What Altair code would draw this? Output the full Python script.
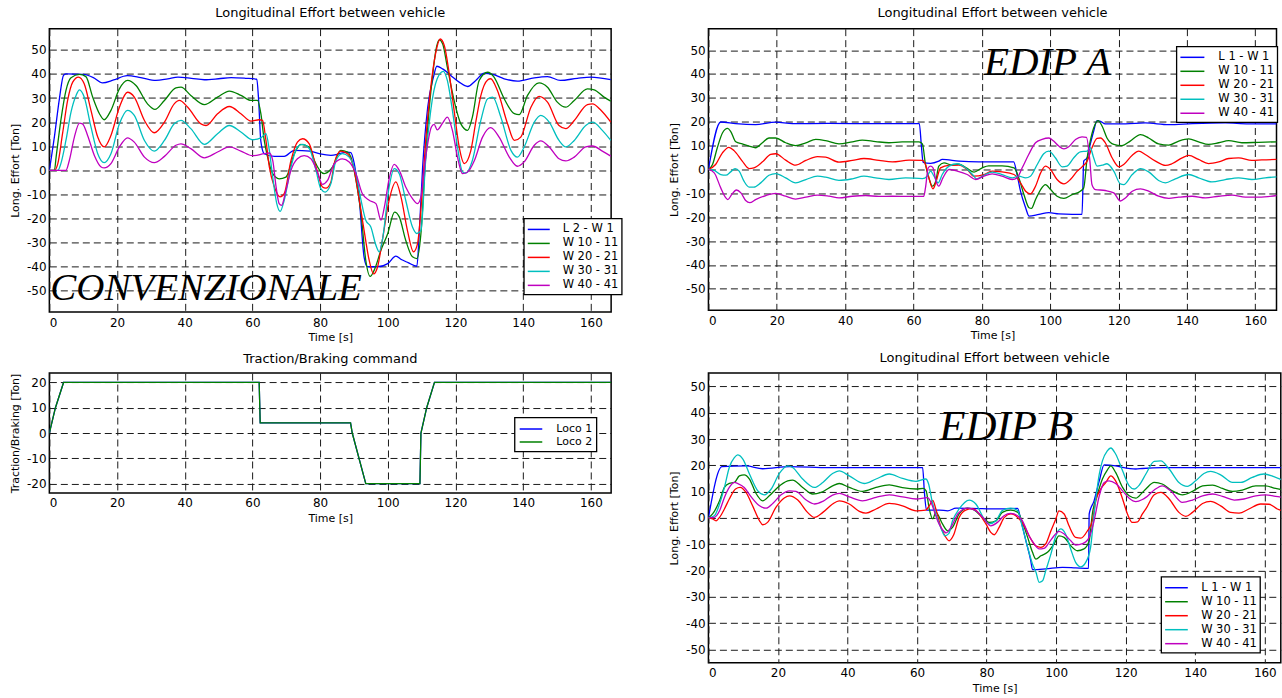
import altair as alt
import pandas as pd

# ---------------- axis ticks / names / colours ----------------
TIME_TICKS = [0, 20, 40, 60, 80, 100, 120, 140, 160]
EFFORT_TICKS = [-50, -40, -30, -20, -10, 0, 10, 20, 30, 40, 50]
CMD_TICKS = [-20, -10, 0, 10, 20]

COLORS5 = ["#0000ff", "#008000", "#ff0000", "#00bfbf", "#bf00bf"]
COLORS2 = ["#0000ff", "#008000"]
CONV_NAMES = ["L 2 - W 1", "W 10 - 11", "W 20 - 21", "W 30 - 31", "W 40 - 41"]
EDIP_NAMES = ["L 1 - W 1", "W 10 - 11", "W 20 - 21", "W 30 - 31", "W 40 - 41"]
CMD_NAMES = ["Loco 1", "Loco 2"]

# ---------------- CONVENZIONALE (top left) : (time, effort) ----------------
CONV_L2W1 = [(0, 0), (1.5, 14), (3, 30), (4.2, 39.5), (5, 40), (10, 39.8), (13, 38.5), (15.7, 36.3), (19, 37.5),
             (23, 39.3), (27, 38.5), (31.5, 37.3), (35, 38), (38, 38.7), (42, 38.2), (45.8, 37.6), (50, 38),
             (53.7, 38.5), (58, 38.2), (61.3, 37.8), (61.8, 30), (62.5, 12), (63.5, 6.9), (66.5, 5.8), (69.4, 5.8),
             (72.4, 8.3), (77, 8), (80, 6.8), (83.2, 6.2), (86, 7), (88.1, 7.6), (89.1, 7.4), (90.1, 2.8),
             (91.6, -12.4), (93, -36), (94, -40), (97, -40), (100, -38.7), (102.4, -35.6), (104, -37), (106, -38.3),
             (108.6, -39.8), (109.3, -26), (110.3, 1.4), (111.8, 26.2), (113.5, 38.7), (114.5, 43.2), (116.2, 42.1),
             (118.6, 39.4), (121.1, 36.6), (123.6, 34.8), (126, 37.3), (128.5, 40.3), (131, 39.8), (134.4, 38),
             (138.3, 37), (143.3, 38.4), (147.2, 38.9), (151, 37.3), (156, 38.2), (160, 38.7), (165.9, 37.6)]
CONV_W10 = [(0, 0), (1.5, 0), (2, 5.5), (3.4, 20.7), (4.9, 33.1), (6.4, 38.4), (8.9, 39.8), (10.8, 38.9),
            (12.8, 30.4), (14.8, 23.5), (16.2, 21), (18.2, 24.9), (20.7, 33.8), (23.1, 37.3), (25.6, 35.2),
            (29, 27.6), (31.2, 25.3), (34, 29), (37.4, 34.2), (38.9, 34.5), (41.8, 31.1), (45.8, 27.3), (49.7, 30.4),
            (53.2, 32.9), (56.6, 31.1), (59.6, 29), (61.5, 29), (62.5, 23.5), (63.5, 12.4), (64.5, 5.5), (66, -1.4),
            (67.9, -3.5), (69.9, -2.8), (72.4, 6.9), (74.3, 10.8), (76.8, 9.7), (78.3, 4.1), (81.2, -1.4),
            (83.7, 1.4), (86.1, 8.3), (88.1, 7.6), (89.1, 5.5), (90.6, -4.1), (92.1, -18), (93.5, -37.3),
            (94.8, -44), (96, -41.4), (98, -33.1), (100, -26.2), (102, -17.3), (103.4, -19.3), (105.3, -29),
            (107.3, -35.9), (108.6, -36.6), (109.8, -26.2), (111, 1.4), (112.2, 24.9), (113.2, 38.7), (114.2, 49.7),
            (115.2, 54.1), (116.2, 52.5), (117.6, 42.8), (119.6, 29), (121.6, 19.3), (123.6, 16.6), (125, 22.1),
            (127, 37.3), (129.5, 40.7), (131.4, 38.7), (134.4, 29.7), (137.4, 23.5), (138.8, 23.1), (141.3, 31.1),
            (144.7, 36.3), (147.2, 34.5), (150.1, 28.3), (152.6, 26.2), (155.1, 29), (159, 33.8), (161, 33.4),
            (163.9, 30.4), (165.9, 28.7)]
CONV_W20 = [(0, 0), (1.5, 0), (2.5, 2.8), (3.9, 15.2), (5.4, 29), (6.9, 36.6), (8.6, 38.7), (10.3, 35.9),
            (12.3, 24.9), (14.3, 13.8), (16.2, 9.7), (18.2, 14.5), (20.7, 26.2), (23.1, 32.4), (25.1, 30.4),
            (28.1, 20.7), (31, 15.6), (34, 20), (36.9, 27.6), (38.4, 29), (40.9, 26.2), (44.8, 19.3), (46.3, 18.6),
            (49.7, 23.5), (53.2, 26.5), (56.6, 23.5), (59.6, 20.4), (62, 21), (63, 20.7), (64, 12.4), (65, 1.4),
            (66.5, -6.9), (68.2, -11), (69.4, -9.7), (71.4, 4.1), (73.3, 11.7), (74.8, 13.1), (76.8, 11),
            (78.8, 1.4), (80.7, -6.9), (81.7, -7.4), (83.2, -4.8), (84.2, 3), (86.1, 8), (88.1, 6.9), (90.1, 0),
            (91.6, -12.4), (93, -24.9), (94.5, -37.3), (95.8, -43), (97, -40), (98.4, -29), (100.4, -12.4),
            (102.4, -4.8), (103.9, -11), (105.8, -24.9), (107.6, -33.8), (108.8, -30.4), (110, -12.4),
            (111.2, 12.4), (112.7, 34.5), (114.2, 49), (115.5, 54.5), (116.7, 51.8), (118.1, 40.7), (119.6, 24.9),
            (121.1, 9.7), (122.6, 2.8), (124.5, 8), (126, 20), (127.5, 31), (129.5, 37.5), (130.4, 38),
            (132.4, 33.1), (135.4, 19.3), (137.4, 12.4), (139.3, 13.8), (142.3, 26.2), (144.7, 30.7), (147.2, 28.3),
            (150.6, 18.6), (152.6, 17.3), (155.1, 20.7), (159, 27.3), (160.5, 27.6), (163, 24.9), (165.9, 20)]
CONV_W30 = [(0, 0), (2.5, 0), (3.4, 2.8), (4.9, 12.4), (6.4, 24.2), (7.9, 31.1), (8.9, 33.4), (10.3, 30.4),
            (12.3, 18), (14.3, 6.9), (16.2, 3.2), (18.2, 6.9), (20.7, 19.3), (23.1, 24.9), (25.1, 22.8),
            (28.1, 12.4), (31, 8), (34, 12.4), (36.9, 19.3), (38.9, 20.7), (41.8, 17.3), (45.8, 10.8), (49.7, 15.2),
            (53.2, 18.6), (56.6, 15.9), (60, 12.7), (62.5, 13.5), (64, 15.2), (65, 8.3), (66, -2.8), (67.2, -13.8),
            (68.2, -17), (69.4, -12.4), (71.4, 1.4), (73.3, 9.7), (74.8, 10.8), (76.8, 9), (78.8, 0), (80.2, -7.6),
            (81.5, -9), (83.2, -5.5), (84.7, 4.1), (86.6, 6.9), (88.6, 5.5), (90.6, -1.4), (92.1, -12.4),
            (93.5, -20.7), (95, -23.5), (96.5, -31.1), (97.5, -33.8), (98.4, -29), (100.4, -6.9), (101.9, 0.7),
            (103.4, -1.4), (105.3, -12.4), (107.3, -23.5), (108.6, -26.2), (109.8, -24.9), (111.2, 4.1),
            (112.7, 24.9), (114.6, 38), (116.4, 41.1), (117.6, 37.3), (119.1, 24.9), (120.6, 9.7), (122.1, -0.7),
            (123.1, -1.1), (125, 4.1), (127.5, 20.7), (129.5, 29.7), (131, 30.4), (133.4, 22.1), (136.4, 8.3),
            (138.3, 5.5), (140.3, 9.7), (143.3, 20), (145.2, 22.8), (147.7, 20), (150.6, 12.4), (152.6, 9.7),
            (155.1, 12.4), (158.5, 18.6), (160.5, 20), (163.4, 16.6), (165.9, 12.4)]
CONV_W40 = [(0, 0), (4.9, 0), (5.9, 4.1), (7.4, 13.8), (8.9, 19.6), (9.8, 19.3), (11.3, 14.5), (13.3, 6.2),
            (15.3, 1.4), (16.2, 1), (18.2, 2.8), (20.7, 9.7), (23.1, 13.5), (25.1, 11.7), (28.1, 5.5), (31, 3.2),
            (34, 5.8), (37.4, 10.4), (38.9, 11), (41.8, 9), (45.8, 5.2), (49.7, 7.6), (53.2, 9.7), (56.6, 8),
            (60, 6.1), (63.5, 6.9), (65, 7.2), (66, 4.1), (67, -6.9), (67.9, -13.8), (68.6, -14.5), (69.9, -8.3),
            (71.4, 0), (73.3, 4.8), (75.3, 6.1), (77.3, 4.8), (79.3, -1), (80.7, -5.8), (82.2, -4.2), (84.2, 2.8),
            (86.6, 4.8), (88.6, 3.5), (90.6, -1.4), (92.5, -9.7), (94.5, -12.4), (96.5, -13.8), (98, -20.7),
            (99, -15.2), (100.4, -3.5), (101.9, 2.5), (103.4, 0), (105.3, -6.9), (107.3, -11.7), (108.8, -13.8),
            (109.8, -11), (111.2, 5.5), (112.9, 18), (113.7, 19.1), (114.6, 16.8), (116.2, 19.6), (117.6, 22.1),
            (119.1, 16.6), (120.6, 5.5), (122.1, -1.4), (123.6, -0.7), (125.6, 4.1), (128, 13.8), (130.4, 17.7),
            (132.9, 13.8), (135.9, 5.5), (138.3, 1.7), (140.3, 3.5), (143.3, 10.4), (145.2, 12.2), (147.7, 9.7),
            (150.6, 4.8), (152.6, 3.9), (155.1, 5.5), (158.5, 9.7), (160.5, 10.1), (163.4, 8), (165.9, 5.9)]

# ---------------- Traction / braking command (bottom left) ----------------
CMD_LOCO1 = [(0, 0), (1.8, 10), (4.2, 20), (62, 20), (62.3, 4), (89, 4), (89.5, 0), (93.5, -20), (109.5, -20),
             (109.8, 0), (111.5, 10), (113.8, 20), (166, 20)]
CMD_LOCO2 = [(0, 0), (1.8, 10), (4.2, 20), (62, 20), (62.3, 4), (89, 4), (89.5, 0), (93.5, -20), (109.5, -20),
             (109.8, 0), (111.5, 10), (113.8, 20), (166, 20)]

# ---------------- EDIP A (top right) ----------------
EDA_L1W1 = [(0, 0), (3.6, 19.9), (8, 19.2), (13.8, 18.8), (19.7, 19.8), (24.6, 19.2), (35, 19.3), (50, 19.2),
            (61.7, 19.2), (62.3, 10), (62.8, 3), (65, 2.6), (67.4, 3.5), (68.4, 4.2), (73.3, 3.5), (79.1, 3.2),
            (89.3, 3.2), (90.3, -2.1), (91.3, -9.1), (92.8, -16), (93.8, -19.5), (96.7, -18.8), (99.6, -18.1),
            (102.5, -18.6), (106.4, -18.8), (109.3, -18.8), (109.8, 3.5), (110.8, 4.9), (111.7, 10.5), (112.7, 16),
            (113.7, 20.5), (114.7, 20.2), (116.1, 19.1), (122, 19.1), (127.8, 19.5), (134.7, 18.8), (141.5, 19.2),
            (151.2, 19.5), (158, 19.1), (166.3, 19.1)]
EDA_W10 = [(0, 0), (1.2, 2.1), (2.6, 9.1), (4.1, 15.3), (5.6, 17.2), (6.5, 16), (8, 11.6), (9.9, 10.7),
           (11.9, 9.8), (13.8, 9.1), (15.8, 11.2), (17.7, 13.2), (19.7, 13.2), (22.6, 11.2), (25.5, 10),
           (28.5, 11.2), (31.4, 12.6), (34.3, 12.1), (38.2, 10.7), (42.1, 11.6), (45, 12.3), (48.9, 11.7),
           (52.8, 11.2), (56.7, 11.6), (61.6, 11.6), (62.6, 10.7), (63.5, 2.1), (64.5, -3.5), (65.5, -7),
           (66.5, -4.9), (67.4, 1.4), (68.9, 2.8), (71.3, 1.8), (73.3, 2.2), (75.7, 0.5), (77.7, -1.1), (80.1, 0.7),
           (82, 1.5), (85.9, 1.5), (89.4, 0.7), (90.8, -3.5), (92.3, -10.5), (93.8, -16), (94.5, -16.3),
           (95.7, -12.6), (97.2, -8.4), (98.6, -6.3), (100.1, -8.4), (102, -11.2), (104, -12.1), (106.4, -10.5),
           (108.8, -9.1), (109.8, -7.7), (110.8, 4.9), (111.7, 11.9), (112.7, 17.4), (114, 20.5), (115.2, 18.1),
           (116.6, 13.2), (118.6, 10.5), (121, 10), (123.4, 11.9), (126.4, 14.6), (128.8, 13.2), (131.7, 10.7),
           (134.7, 10.2), (137.6, 11.9), (140.5, 12.8), (143.4, 11.6), (146.3, 10.5), (149.3, 11.2), (152.2, 12.1),
           (156.1, 11.2), (161, 11.4), (166.3, 11.6)]
EDA_W20 = [(0, 0), (2.1, 2.1), (4.1, 7), (6, 9.3), (7.5, 7.9), (9.9, 3.5), (11.9, 0.4), (13.3, 0.7), (15.8, 3.2),
           (18.2, 6.3), (19.7, 6.6), (22.6, 3.9), (25.5, 1.8), (28.5, 3.8), (31.9, 5.4), (34.3, 5.2), (38.2, 3.1),
           (42.1, 3.8), (45.5, 4.6), (49.9, 3.8), (53.8, 3.2), (58.7, 3.9), (62.6, 3.8), (63.5, 2.1), (64.5, -3.5),
           (65.7, -8.1), (66.5, -5.6), (67.9, 0.7), (70.4, 1.7), (73.3, 1.8), (75.7, 0), (77.7, -2.8), (80.6, -2.1),
           (83, -0.7), (85.9, -1), (89.4, -2.1), (91.3, -5.6), (92.8, -9.1), (94.2, -10.2), (95.7, -7),
           (97.2, -1.4), (98.6, 1.4), (100.1, 0), (102, -4.2), (104, -6), (105.9, -4.2), (107.9, -0.7),
           (109.3, 1.1), (110.8, 3.5), (112.2, 9.1), (113.7, 13), (114.7, 13.2), (116.1, 11.2), (118.1, 4.9),
           (120.1, 1.1), (121.5, 2.1), (124, 6), (125.9, 7.7), (127.8, 6.3), (130.8, 3.5), (133.7, 1.7),
           (135.6, 2.4), (138.6, 4.9), (140.5, 5.9), (143.4, 4.2), (146.3, 2.5), (149.3, 3.2), (152.2, 4.6),
           (155.1, 4.9), (159, 3.8), (161.9, 4), (166.3, 4.2)]
EDA_W30 = [(0, 0), (1.7, -0.4), (3.6, -2.1), (5.1, -2.4), (6.5, -1), (7.8, 0.4), (9, -0.7), (10.4, -4.9),
           (11.9, -7.4), (13.3, -7.4), (15.3, -5.6), (17.7, -2.4), (19.7, -1.7), (22.6, -3.5), (25.5, -5.6),
           (28.5, -4.2), (31.9, -2.8), (34.3, -3.2), (38.2, -4.6), (42.1, -3.9), (45.5, -2.8), (48.9, -3.5),
           (52.8, -4.2), (57.7, -3.5), (62.6, -3.8), (64, -2.8), (65, -0.7), (66, -2.8), (67.2, -5.6), (68.4, -2.1),
           (70.4, 1.4), (72.8, 2.4), (75.2, 0.7), (77.7, -2.8), (78.4, -3.9), (80.6, -2.4), (83, -1.1),
           (85.9, -2.1), (88.9, -3.5), (90.8, -2.8), (92.8, -3.5), (94.2, -2.8), (96.2, 2.1), (98.1, 6.6),
           (99.6, 7.7), (101.5, 4.9), (103.5, 1.1), (104.9, 1.4), (106.9, 4.9), (108.8, 7.4), (110.8, 7.7),
           (111.7, 9.1), (112.7, 4.9), (113.7, 1.4), (115.2, 1.8), (116.6, 2.4), (118.6, -0.7), (120.5, -6),
           (121.5, -6.3), (124, -2.1), (126.4, 0.4), (128.8, -1), (131.7, -4.6), (133.7, -5.6), (136.6, -3.9),
           (140.5, -2.1), (143.4, -3.5), (147.3, -5.2), (151.2, -4.2), (155.1, -3.5), (159, -4.2), (162.9, -3.5),
           (166.3, -3.1)]
EDA_W40 = [(0, 0), (1.7, -1.4), (3.6, -7.7), (5.1, -11.9), (5.7, -12.6), (6.8, -10.5), (8.2, -8.6), (9.5, -9.8),
           (10.9, -13), (12.1, -13.9), (13.8, -12.6), (16.8, -10.9), (19.7, -10), (22.6, -11.2), (25.5, -12.4),
           (28.5, -11.6), (31.9, -10.7), (35.3, -11.2), (38.2, -11.9), (42.1, -11.2), (46, -10.9), (49.9, -11.3),
           (53.8, -11.2), (58.7, -11.3), (63, -11.2), (63.5, -7.7), (64.3, 0.7), (65, 1.4), (65.7, 0.7),
           (66.6, -4.9), (67.4, -7), (68.6, -3.5), (70.4, 0), (72.8, -0.7), (75.7, -2.1), (78.2, -4.2),
           (80.6, -2.8), (83, -1.8), (85.9, -2.8), (88.9, -4.2), (90.3, -3.5), (91.8, 0.7), (93.7, 6.3),
           (95.7, 11.2), (97.6, 12.6), (99.6, 13.2), (101, 11.9), (102.5, 9.8), (104, 8.6), (105.4, 9.5),
           (107.4, 12.6), (109.3, 13.7), (110.6, 13.5), (111.6, 3.5), (112.2, -6.3), (113.2, -8.4), (116.1, -8.8),
           (118.6, -9.8), (120.5, -13.2), (122, -11.9), (124, -9.1), (126.4, -8.1), (128.8, -9.1), (131.7, -11.2),
           (134.7, -12.1), (137.6, -11.6), (141.5, -11.2), (145.4, -11.9), (149.3, -11.2), (153.2, -10.7),
           (157.1, -11.6), (161, -11.6), (166.3, -10.9)]

# ---------------- EDIP B (bottom right) ----------------
EDB_L1W1 = [(0, 0), (3.9, 19.5), (10.8, 19.8), (15.6, 18.7), (23.3, 19.5), (34.8, 19.1), (44.3, 19.1),
            (53.9, 19.1), (61.6, 19.1), (62.1, 10), (62.7, 3), (66.4, 3), (68.8, 2.7), (71.2, 3.7), (78.8, 3.5),
            (84.6, 3.4), (88.9, 3.6), (89.9, -1.1), (91.3, -8.7), (92.7, -16.3), (93.2, -19.7), (97, -19.4),
            (101.8, -18.8), (105.6, -19), (109.3, -19.2), (109.5, 1.5), (110.9, 6.5), (112.4, 14.1), (113.8, 20.2),
            (117.1, 19.8), (119.1, 19.2), (122.9, 18.6), (124.8, 18.8), (130.5, 19.1), (140.1, 19.1),
            (149.7, 19.1), (159.3, 19.1), (165.5, 19.1)]
EDB_W10 = [(0, 0), (1.2, 1.5), (3.2, 6.5), (4.6, 11.6), (6, 13.1), (7.5, 13.5), (8.9, 16), (10.3, 16.4),
           (11.8, 14.8), (13.7, 9.3), (15.6, 6.5), (17.5, 8.4), (19.9, 11.6), (22.8, 14.1), (24.2, 14.4),
           (27.1, 11.6), (30, 9.1), (32.4, 9.7), (35.7, 12.2), (37.6, 13.1), (40.5, 11.6), (44.3, 10.1),
           (48.2, 11.6), (52, 12.6), (55.8, 11.5), (59.7, 11), (61.8, 11.2), (62.6, 10.3), (63.5, 3.4), (64.5, -0.4),
           (65.4, 2.1), (67.3, -2.3), (68.8, -4.9), (70.2, -3.6), (72.1, 1.5), (74.5, 3.7), (76.4, 3), (78.8, 0.2),
           (80.7, -1.7), (82.7, -1.1), (84.5, 2.1), (86.9, 3), (89, 2.1), (90.3, -1.7), (91.8, -7.4), (93.2, -13.1),
           (94.2, -15.7), (95.6, -14.4), (97.5, -13.1), (99.4, -9.9), (100.8, -6.8), (102.3, -7.4), (104.2, -10.6),
           (106.1, -12.5), (108, -11.8), (109.5, -8.7), (110.4, 1.5), (111.9, 9.1), (113.3, 14.8), (114.7, 18.2),
           (115.7, 19.8), (117.1, 17.3), (119.1, 11.6), (121, 8.4), (122.9, 7.5), (124.8, 9.7), (125.8, 11),
           (128.2, 13.5), (130.5, 12.9), (133.4, 10.3), (136.3, 8.8), (139.2, 10.1), (142.1, 12.2), (145, 12.5),
           (147.8, 11.2), (150.7, 10.1), (153.5, 10.6), (157.4, 12.2), (160.2, 12.2), (163.1, 11.2), (165.5, 10.6)]
EDB_W20 = [(0, 0), (1.2, -0.4), (2.2, -1.1), (3.2, 0.2), (4.6, 3.4), (6, 7.2), (7.8, 11), (9.1, 11.6),
           (10.8, 9.7), (12.7, 4.6), (14.7, -1.1), (15.6, -2.6), (17, -1.7), (19.4, 4), (21.8, 7.6), (23.3, 8.4),
           (25.7, 6.8), (28.5, 2.1), (30.5, 0.2), (32.9, 2.1), (35.7, 5.3), (37.6, 6.5), (40.5, 5.3), (43.4, 2.5),
           (45.3, 1.8), (48.2, 3.4), (52, 5.5), (55.8, 4.6), (59.7, 2.7), (62.5, 3), (63.5, 4.6), (64.5, 6.7),
           (65.4, 3.4), (66.9, -3.6), (68.1, -7), (69.2, -8.7), (70.5, -6.5), (72.1, 0.2), (74, 3), (76, 3.5),
           (77.9, 1.5), (79.8, -2.3), (81.2, -5.5), (82.2, -6.4), (83.6, -3.6), (85.1, 0.2), (87, 1.5), (88.9, 0.2),
           (90.8, -3), (92.7, -8), (94.1, -10.6), (95.6, -11.2), (97, -9.9), (98.5, -4.9), (99.9, -0.4),
           (100.8, 2.7), (102.3, 1.5), (103.7, -3), (105.6, -7.4), (107.1, -7.7), (109, -4.9), (110.4, -1.1),
           (111.4, 6.5), (112.8, 11), (114.3, 13.5), (115.7, 16), (117.1, 14.1), (119.1, 7.2), (120.5, 1.5),
           (121.9, -1.7), (123.4, -1.5), (124.8, 1.5), (125.8, 3.4), (128.2, 8.8), (130.1, 9.7), (132.5, 7.2),
           (135.3, 2.1), (137.3, 0.6), (139.2, 2.1), (142.1, 5.5), (144.4, 6.3), (147.3, 4.6), (150.2, 2.1),
           (152.6, 1.8), (155.4, 3.4), (158.8, 5.3), (161.2, 5.2), (163.6, 3.4), (165.5, 2.5)]
EDB_W30 = [(0, 0), (1.7, 0.8), (3.2, 5.3), (4.6, 11.6), (6, 19.2), (7.5, 23), (8.4, 24), (9.9, 22.4),
           (11.8, 16.7), (14.2, 10.3), (16.1, 8.8), (18, 10.9), (20.4, 16.9), (22.8, 19.8), (24.2, 19.2),
           (27.1, 14.8), (30.5, 11.6), (32.9, 13.5), (35.7, 16.9), (37.6, 17.9), (40.5, 16), (44.8, 13.1),
           (48.2, 14.8), (52, 16.7), (55.8, 15), (59.7, 13.9), (62.5, 14.8), (63.3, 13), (64.3, 6.5), (65.4, 1.5),
           (66.8, -3.6), (68, -6.8), (69.1, -6), (70.2, -1.1), (72.1, 3.4), (75, 6.8), (76.9, 5.3), (79.3, -0.4),
           (80.7, -2.3), (82.7, -1.1), (84.5, 2.8), (86.9, 3.7), (88.9, 2.8), (90.3, -3.6), (91.8, -11.2),
           (93.2, -17.6), (94.2, -20.7), (95.1, -24.5), (96.1, -23.9), (97, -20.1), (98.5, -13.7), (99.9, -6.8),
           (101.3, -4.2), (102.7, -6.1), (104.2, -11.9), (105.6, -16.9), (107.1, -18.6), (108.5, -16.9),
           (109.9, -11.2), (110.9, 1.5), (112.4, 16.7), (113.3, 21.7), (114.7, 25.5), (115.7, 26.6), (117.1, 24.3),
           (119.1, 17.9), (121, 12.2), (122.4, 11), (123.9, 12.5), (125.8, 16.7), (128.2, 21.5), (130.1, 21.7),
           (132.5, 18.6), (135.3, 13.5), (137.7, 12), (140.1, 14.1), (142.5, 16.9), (144.4, 17.7), (147.3, 16.4),
           (150.7, 13.5), (153.1, 13.5), (156.4, 15.4), (159.7, 16.7), (162.6, 15.7), (165.5, 14.1)]
EDB_W40 = [(0, 0), (1.7, 0.2), (3.2, 2.7), (4.6, 7.8), (6, 11.6), (7.5, 13.5), (8.4, 13.1), (10.3, 11.6),
           (12.3, 8), (14.7, 4.6), (16.6, 3.7), (18.5, 5.5), (20.9, 8.8), (23.3, 10.3), (25.2, 10.1), (28.1, 6.8),
           (30.5, 5.3), (32.9, 6.3), (35.7, 8.7), (37.6, 9.3), (40.5, 8), (44.3, 6.5), (48.2, 7.8), (52, 8.8),
           (55.8, 8), (59.7, 7.2), (63, 7.7), (64.3, 5), (65.2, 1.5), (66, -1.4), (67.3, -4.5), (68.4, -5.7),
           (69.9, -3.2), (71.8, 1.7), (74.5, 3.7), (76.9, 2.7), (79.3, -0.4), (81.2, -3), (83.1, -1.7), (85, 0.8),
           (86.9, 1.7), (88.9, 0.8), (90.3, -1.1), (92.2, -6.8), (93.7, -9.9), (95.1, -11.8), (96.5, -11.6),
           (98, -9.3), (99.4, -6.8), (100.8, -5.1), (102.3, -6.1), (104.2, -8.7), (105.6, -10.3), (107.6, -9.8),
           (109.5, -7.4), (110.9, -1.1), (112.4, 8.4), (113.8, 13.5), (115.2, 14.1), (117.1, 13.1), (119.1, 10.3),
           (121, 7.5), (122.9, 6.2), (124.8, 7), (125.8, 7.8), (128.2, 10.6), (130.5, 12.2), (132.9, 10.3),
           (136.3, 5.9), (139.2, 6.8), (142.1, 8.4), (145, 9.1), (147.8, 8.2), (151.2, 6.8), (154, 7.2),
           (157.4, 8.4), (160.2, 8.8), (163.1, 8.2), (165.5, 7.8)]

# ---------------- annotations (label, time, effort) ----------------
ANN_CONV = [("CONVENZIONALE", 0.3, -53.9)]
ANN_EDIP_A = [("EDIP A", 80.6, 39.5)]
ANN_EDIP_B = [("EDIP B", 66.4, 29.7)]

FONT = "DejaVu Sans"
HYPHEN_LABEL = "datum.value < 0 ? '-' + abs(datum.value) : '' + datum.value"


def to_frame(names, series):
    rows = []
    for name, pts in zip(names, series):
        for i, (t, v) in enumerate(pts):
            rows.append({"series": name, "t": t, "v": v, "i": i})
    return pd.DataFrame(rows)


def panel(df, names, colors, xdom, ydom, yticks, w, h, title, title_offset, ytitle,
          legend_kw, ann=None, ann_size=40, interp="monotone"):
    x = alt.X("t:Q", title="Time [s]", scale=alt.Scale(domain=xdom, nice=False, zero=False),
              axis=alt.Axis(values=TIME_TICKS))
    y = alt.Y("v:Q", title=ytitle, scale=alt.Scale(domain=ydom, nice=False, zero=False),
              axis=alt.Axis(values=yticks, labelExpr=HYPHEN_LABEL))
    lines = alt.Chart(df).mark_line(strokeWidth=1.3, clip=True, interpolate=interp).encode(
        x=x, y=y,
        color=alt.Color("series:N", sort=names,
                        scale=alt.Scale(domain=names, range=colors),
                        legend=alt.Legend(**legend_kw)),
        order=alt.Order("i:Q"),
    )
    layers = [lines]
    if ann:
        adf = pd.DataFrame(ann, columns=["label", "t", "v"])
        txt = alt.Chart(adf).mark_text(font="Liberation Serif", fontStyle="italic", fontSize=ann_size,
                                        align="left", baseline="alphabetic", color="black").encode(
            x=x, y=y, text="label:N")
        layers.append(txt)
    return alt.layer(*layers).properties(
        width=w, height=h,
        title=alt.TitleParams(title, fontSize=13, font=FONT, fontWeight="normal", anchor="middle",
                              baseline="alphabetic", offset=title_offset, color="black", frame="group"),
    )


def legend_kw(lx, ly, row, line_len, fs=11.5, pad=3, extra=False):
    k = line_len / row
    kw = dict(title=None, orient="none", legendX=lx, legendY=ly, fillColor="white", strokeColor="black",
              padding=pad, symbolType="M-%.3f,0H%.3f" % (k, k), symbolSize=row * row, symbolStrokeWidth=1.5,
              symbolOffset=(line_len - row) / 2, labelOffset=(line_len - row) + 8,
              labelFont=FONT, labelFontSize=fs, labelColor="black", rowPadding=0, cornerRadius=0)
    if extra:
        kw["labelExpr"] = "datum.label + '  '"
    return kw


p1 = panel(to_frame(CONV_NAMES, [CONV_L2W1, CONV_W10, CONV_W20, CONV_W30, CONV_W40]), CONV_NAMES, COLORS5,
           [0, 166], [-58.8, 58.8], EFFORT_TICKS, 562.4, 283.7,
           "Longitudinal Effort between vehicle", -1, "Long. Effort [Ton]",
           legend_kw(475, 190, 14.1, 22), ANN_CONV, 39)
p2 = panel(to_frame(CMD_NAMES, [CMD_LOCO1, CMD_LOCO2]), CMD_NAMES, COLORS2,
           [0, 166], [-23.7, 23.7], CMD_TICKS, 562.4, 120,
           "Traction/Braking command", -3, "Traction/Braking [Ton]",
           legend_kw(465.7, 44.5, 12.7, 22.6, fs=11, pad=4, extra=True), interp="linear")
p3 = panel(to_frame(EDIP_NAMES, [EDA_L1W1, EDA_W10, EDA_W20, EDA_W30, EDA_W40]), EDIP_NAMES, COLORS5,
           [0, 166.2], [-59, 59], EFFORT_TICKS, 568.7, 282,
           "Longitudinal Effort between vehicle", -1.5, "Long. Effort [Ton]",
           legend_kw(468.5, 17.7, 14, 24, extra=True), ANN_EDIP_A, 41)
p4 = panel(to_frame(EDIP_NAMES, [EDB_L1W1, EDB_W10, EDB_W20, EDB_W30, EDB_W40]), EDIP_NAMES, COLORS5,
           [0, 164.6], [-55.1, 55.1], EFFORT_TICKS, 573, 290,
           "Longitudinal Effort between vehicle", -1.5, "Long. Effort [Ton]",
           legend_kw(453.2, 203.9, 14, 22.7, extra=True), ANN_EDIP_B, 43)

chart = alt.concat(
    p1, p3, p2, p4, columns=2, spacing={"row": 60.8, "column": 96.8}, bounds="flush"
).resolve_scale(
    x="independent", y="independent", color="independent"
).resolve_legend(
    color="independent"
).configure(
    padding={"left": 8.4, "top": 5.3, "right": 0, "bottom": 0},
    background="white",
    font=FONT,
).configure_view(
    stroke="black", strokeWidth=1.5
).configure_axis(
    grid=True, gridDash=[7, 4], gridColor="#1a1a1a", gridWidth=1, gridOpacity=1,
    domain=False, ticks=False, tickSize=0,
    labelFont=FONT, labelFontSize=12, labelColor="black",
    titleFont=FONT, titleFontSize=11, titleFontWeight="normal", titleColor="black",
).configure_axisX(
    labelPadding=5, titlePadding=3.5
).configure_axisY(
    labelPadding=3.3, titlePadding=6
).configure_legend(
    strokeWidth=1.3
)

chart.save("out.html", embed_options={"renderer": "svg", "actions": False})
